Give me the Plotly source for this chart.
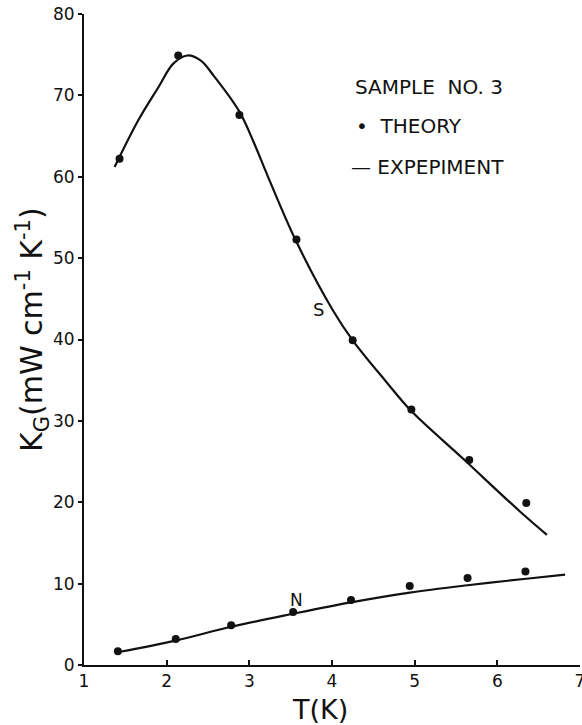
import plotly.graph_objects as go

# Theory points (dots)
s_theory_t = [1.43, 2.14, 2.88, 3.57, 4.25, 4.96, 5.66, 6.35]
s_theory_k = [62.2, 74.9, 67.6, 52.3, 39.9, 31.4, 25.2, 19.9]
n_theory_t = [1.41, 2.11, 2.78, 3.53, 4.23, 4.94, 5.64, 6.34]
n_theory_k = [1.7, 3.2, 4.9, 6.5, 8.0, 9.7, 10.7, 11.5]

s_exp_t = [1.37, 1.66, 1.9, 2.08, 2.25, 2.41, 2.57, 2.88, 3.05, 3.23, 3.57,
           4.01, 4.25, 4.64, 4.96, 5.58, 6.27, 6.6]
s_exp_k = [61.2, 67.0, 71.0, 73.9, 74.9, 74.3, 72.4, 68.0, 64.3, 59.9, 52.0,
           43.6, 39.9, 35.0, 31.2, 25.4, 18.9, 16.0]
n_exp_t = [1.42, 2.11, 2.78, 3.53, 4.23, 4.94, 5.64, 6.35, 6.82]
n_exp_k = [1.6, 3.0, 4.7, 6.3, 7.7, 8.9, 9.8, 10.6, 11.1]

x_ticks = [1, 2, 3, 4, 5, 6, 7]
y_ticks = [0, 10, 20, 30, 40, 50, 60, 70, 80]

FONT = "DejaVu Sans"
INK = "#111111"

fig = go.Figure()
for t, k in [(s_exp_t, s_exp_k), (n_exp_t, n_exp_k)]:
    fig.add_trace(go.Scatter(x=t, y=k, mode="lines",
                             line=dict(color=INK, width=2.2, shape="spline", smoothing=1.0),
                             showlegend=False, hoverinfo="skip"))
for t, k in [(s_theory_t, s_theory_k), (n_theory_t, n_theory_k)]:
    fig.add_trace(go.Scatter(x=t, y=k, mode="markers",
                             marker=dict(color=INK, size=8),
                             showlegend=False))

ann = []
ann.append(dict(x=3.84, y=43.7, text="S", showarrow=False, xref="x", yref="y",
                font=dict(family=FONT, size=18, color=INK)))
ann.append(dict(x=3.57, y=8.0, text="N", showarrow=False, xref="x", yref="y",
                font=dict(family=FONT, size=17, color=INK)))
ann.append(dict(x=4.26, y=71.0, text="SAMPLE  NO. 3", showarrow=False, xref="x", yref="y",
                xanchor="left", font=dict(family=FONT, size=20, color=INK)))
ann.append(dict(x=4.27, y=66.2, text="•  THEORY", showarrow=False, xref="x", yref="y",
                xanchor="left", font=dict(family=FONT, size=20, color=INK)))
ann.append(dict(x=4.2, y=61.2, text="— EXPEPIMENT", showarrow=False, xref="x", yref="y",
                xanchor="left", font=dict(family=FONT, size=20, color=INK)))
# axis titles
ann.append(dict(x=-0.105, y=0.516, xref="paper", yref="paper", showarrow=False,
                xanchor="center", yanchor="middle",
                text="K<sub>G</sub>(mW cm<sup>-1</sup> K<sup>-1</sup>)", textangle=-90,
                font=dict(family=FONT, size=30, color=INK)))
ann.append(dict(x=0.476, y=-0.068, xref="paper", yref="paper", showarrow=False,
                xanchor="center", yanchor="middle",
                text="T(K)", font=dict(family=FONT, size=27, color=INK)))

fig.update_layout(
    width=582, height=725,
    margin=dict(l=84, r=2, t=14, b=60),
    paper_bgcolor="white", plot_bgcolor="white",
    annotations=ann,
    showlegend=False,
)
fig.update_xaxes(range=[1, 7], tickvals=x_ticks, ticktext=[str(v) for v in x_ticks],
                 showgrid=False, zeroline=False, showline=True, linecolor=INK, linewidth=2,
                 ticks="inside", ticklen=5, tickwidth=2, tickcolor=INK,
                 ticklabeloverflow="allow", automargin=False,
                 tickfont=dict(family=FONT, size=17, color=INK))
fig.update_yaxes(range=[0, 80], tickvals=y_ticks, ticktext=[str(v) for v in y_ticks],
                 showgrid=False, zeroline=False, showline=True, linecolor=INK, linewidth=2,
                 ticks="outside", ticklen=4, tickwidth=2, tickcolor=INK,
                 ticklabeloverflow="allow", automargin=False,
                 tickfont=dict(family=FONT, size=17, color=INK))

fig.write_html("out.html", config={"displayModeBar": False},
               post_script="document.body.style.margin='0';document.body.style.overflow='hidden';")
